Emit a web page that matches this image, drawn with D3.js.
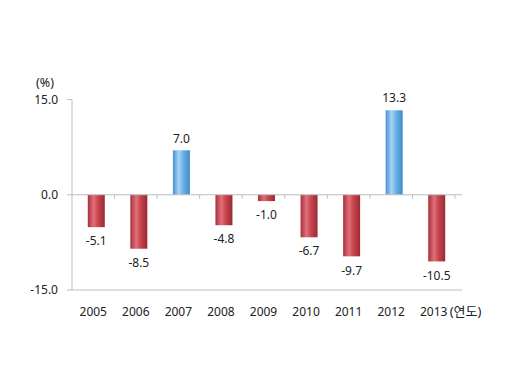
<!DOCTYPE html>
<html><head><meta charset="utf-8">
<script src="https://cdn.jsdelivr.net/npm/d3@7"></script>
<style>body{margin:0;background:#fff}</style>
</head><body><svg id="c" width="520" height="367"></svg>
<script>
const years = ["2005","2006","2007","2008","2009","2010","2011","2012","2013"];
const values = [-5.1,-8.5,7.0,-4.8,-1.0,-6.7,-9.7,13.3,-10.5];
const yTicks = [15,0,-15];

const svg = d3.select("#c");
const font = "'Noto Sans','Noto Sans CJK KR',sans-serif";
const x = d3.scaleBand().domain(years).range([72,455]).paddingInner(0).paddingOuter(0);
const y = d3.scaleLinear().domain([-15,15]).range([290,99.5]);
const bw = 17;

const defs = svg.append("defs");
function grad(id, stops){
  const g = defs.append("linearGradient").attr("id",id).attr("x1","0").attr("x2","1").attr("y1","0").attr("y2","0");
  stops.forEach(s=>g.append("stop").attr("offset",s[0]).attr("stop-color",s[1]));
}
grad("red",[[0,"#a8303a"],[0.35,"#e0707a"],[0.6,"#c8454f"],[1,"#9a2a33"]]);
grad("blue",[[0,"#4a90d0"],[0.35,"#a8d4f4"],[0.6,"#6ab2e8"],[1,"#4288c8"]]);

const axisColor = "#bdbdbd";
svg.append("line").attr("x1",72).attr("x2",72).attr("y1",y(15)).attr("y2",y(-15)).attr("stroke",axisColor);
yTicks.forEach(t=>{
  svg.append("line").attr("x1",67).attr("x2",72).attr("y1",y(t)).attr("y2",y(t)).attr("stroke",axisColor);
  svg.append("text").attr("x",58).attr("y",y(t)).attr("dy","0.35em").attr("text-anchor","end")
    .attr("font-family",font).attr("font-size",12).attr("fill","#222").text(t.toFixed(1));
});
svg.append("text").attr("x",45).attr("y",83).attr("dy","0.35em").attr("text-anchor","middle")
  .attr("font-family",font).attr("font-size",12.5).attr("fill","#222").text("(%)");
svg.append("line").attr("x1",72).attr("x2",462).attr("y1",y(-15)).attr("y2",y(-15)).attr("stroke",axisColor);

svg.selectAll("rect.bar").data(values).enter().append("rect")
  .attr("x",(d,i)=>x(years[i])+x.bandwidth()/2-bw/2+3)
  .attr("width",bw)
  .attr("y",d=>y(Math.max(0,d)))
  .attr("height",d=>Math.abs(y(d)-y(0)))
  .attr("fill",d=>d>=0?"url(#blue)":"url(#red)");

svg.append("line").attr("x1",72).attr("x2",462).attr("y1",y(0)).attr("y2",y(0)).attr("stroke",axisColor);
years.forEach((yr,i)=>{
  const xx = x(yr)+x.bandwidth();
  svg.append("line").attr("x1",xx).attr("x2",xx).attr("y1",y(0)).attr("y2",y(0)+4).attr("stroke",axisColor);
});

svg.selectAll("text.val").data(values).enter().append("text")
  .attr("x",(d,i)=>x(years[i])+x.bandwidth()/2+3)
  .attr("y",d=>d>=0? y(d)-12 : y(d)+14)
  .attr("dy","0.35em").attr("text-anchor","middle")
  .attr("font-family",font).attr("font-size",12).attr("fill","#222")
  .text(d=>d.toFixed(1));

years.forEach((yr,i)=>{
  svg.append("text").attr("x",x(yr)+x.bandwidth()/2).attr("y",311.5).attr("dy","0.35em")
    .attr("text-anchor","middle").attr("font-family",font).attr("font-size",12).attr("fill","#222").text(yr);
});
svg.append("text").attr("x",x("2013")+x.bandwidth()/2+16).attr("y",311.5).attr("dy","0.35em")
  .attr("text-anchor","start").attr("font-family",font).attr("font-size",13).attr("fill","#222").text("(연도)");
</script></body></html>
